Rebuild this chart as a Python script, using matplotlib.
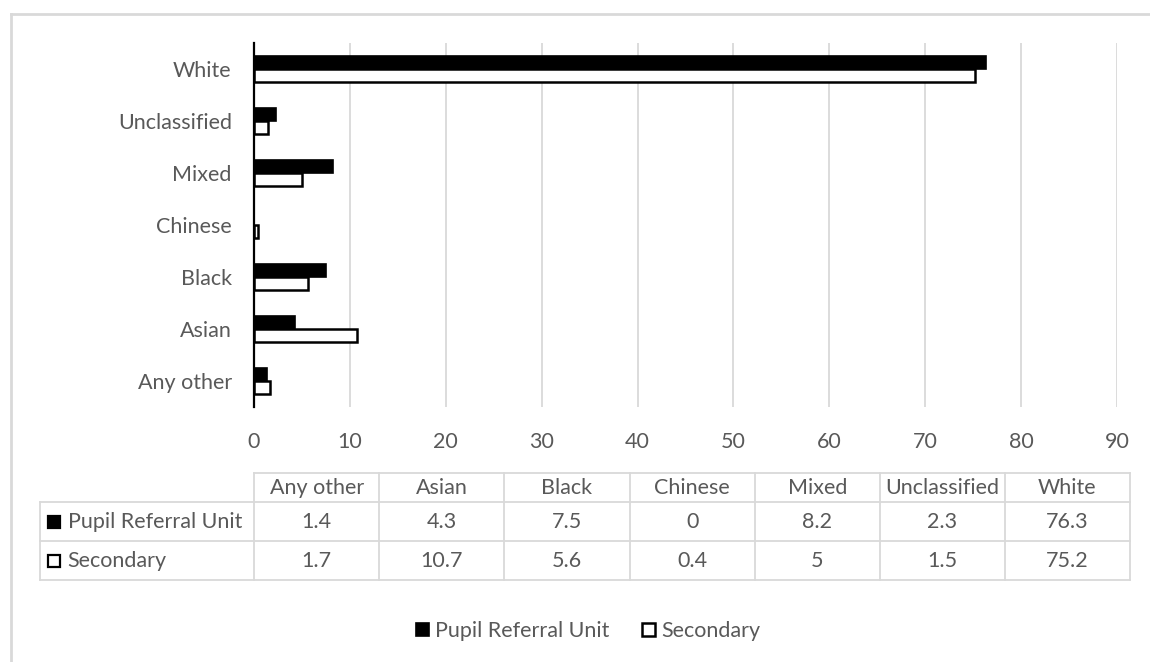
import matplotlib
matplotlib.use("Agg")
import matplotlib.pyplot as plt
from matplotlib.patches import Patch
from matplotlib.lines import Line2D
import numpy as np

# ethnicity breakdown, percent of pupils
categories = ["Any other", "Asian", "Black", "Chinese", "Mixed", "Unclassified", "White"]
pru = [1.4, 4.3, 7.5, 0, 8.2, 2.3, 76.3]
secondary = [1.7, 10.7, 5.6, 0.4, 5, 1.5, 75.2]
series_names = ["Pupil Referral Unit", "Secondary"]
x_ticks = [0, 10, 20, 30, 40, 50, 60, 70, 80, 90]

plt.rcParams["font.family"] = ["Lato", "DejaVu Sans"]
text_col = "#595959"
grid_col = "#d9d9d9"
fs = 15.5

W, H = 1150, 662
fig = plt.figure(figsize=(W / 100, H / 100), dpi=100)

def px_box(x0, y0, x1, y1):
    return [x0 / W, 1 - y1 / H, (x1 - x0) / W, (y1 - y0) / H]

# outer frame (only top and left edges are in view)
fig.add_artist(Line2D([11 / W, 1], [1 - 14 / H, 1 - 14 / H], color=grid_col, lw=2))
fig.add_artist(Line2D([11 / W, 11 / W], [0, 1 - 14 / H], color=grid_col, lw=2))

# bar chart
ax = fig.add_axes(px_box(254, 43, 1117, 407))
y = np.arange(len(categories))
h = 0.25
ax.barh(y + h / 2, pru, height=h, color="black", edgecolor="black", lw=1.2, zorder=3)
ax.barh(y - h / 2, secondary, height=h, color="white", edgecolor="black", lw=1.8, zorder=3)
ax.set_xlim(0, 90)
ax.set_ylim(-0.5, len(categories) - 0.5)
ax.set_xticks(x_ticks)
ax.set_yticks(y)
ax.set_yticklabels(categories)
ax.grid(axis="x", color=grid_col, lw=1.3, zorder=0)
for s in ["top", "right", "bottom"]:
    ax.spines[s].set_visible(False)
ax.spines["left"].set_linewidth(1.6)
ax.spines["left"].set_zorder(4)
ax.tick_params(axis="both", length=0, colors=text_col, labelsize=fs)
ax.tick_params(axis="y", pad=16)
ax.tick_params(axis="x", pad=18)

# data table under the chart
tx = fig.add_axes(px_box(40, 473, 1130, 580))
label_w = 214 / 125
tx.set_xlim(-label_w, len(categories))
tx.set_ylim(3, 0)
tx.axis("off")
row_edges = [0, 0.82, 1.91, 3]
lc = grid_col
# header row only spans the value columns
tx.plot([0, len(categories)], [row_edges[0]] * 2, color=lc, lw=1.3, clip_on=False)
for r in row_edges[1:]:
    tx.plot([-label_w, len(categories)], [r, r], color=lc, lw=1.3, clip_on=False)
tx.plot([-label_w, -label_w], [row_edges[1], row_edges[3]], color=lc, lw=1.3, clip_on=False)
for c in range(len(categories) + 1):
    tx.plot([c, c], [row_edges[0], row_edges[3]], color=lc, lw=1.3, clip_on=False)

for i, cat in enumerate(categories):
    tx.text(i + 0.5, (row_edges[0] + row_edges[1]) / 2, cat, ha="center", va="center",
            color=text_col, fontsize=fs)
for r, vals in enumerate([pru, secondary]):
    yc = (row_edges[r + 1] + row_edges[r + 2]) / 2
    for i, v in enumerate(vals):
        tx.text(i + 0.5, yc, f"{v:g}", ha="center", va="center", color=text_col, fontsize=fs)
    face = "black" if r == 0 else "white"
    tx.plot([-label_w + 0.11], [yc], marker="s", ms=8.5, mfc=face, mec="black",
            mew=1.6, clip_on=False)
    tx.text(-label_w + 0.22, yc, series_names[r], ha="left", va="center",
            color=text_col, fontsize=fs)

# legend at the bottom
handles = [Patch(facecolor="black", edgecolor="black", lw=1.2),
           Patch(facecolor="white", edgecolor="black", lw=1.8)]
fig.legend(handles, series_names, loc="center", bbox_to_anchor=(588 / W, 1 - 631 / H),
           ncol=2, frameon=False, fontsize=fs, labelcolor=text_col,
           handlelength=0.6, handleheight=0.6, handletextpad=0.3, columnspacing=1.5)

fig.savefig("out.png", dpi=100)
